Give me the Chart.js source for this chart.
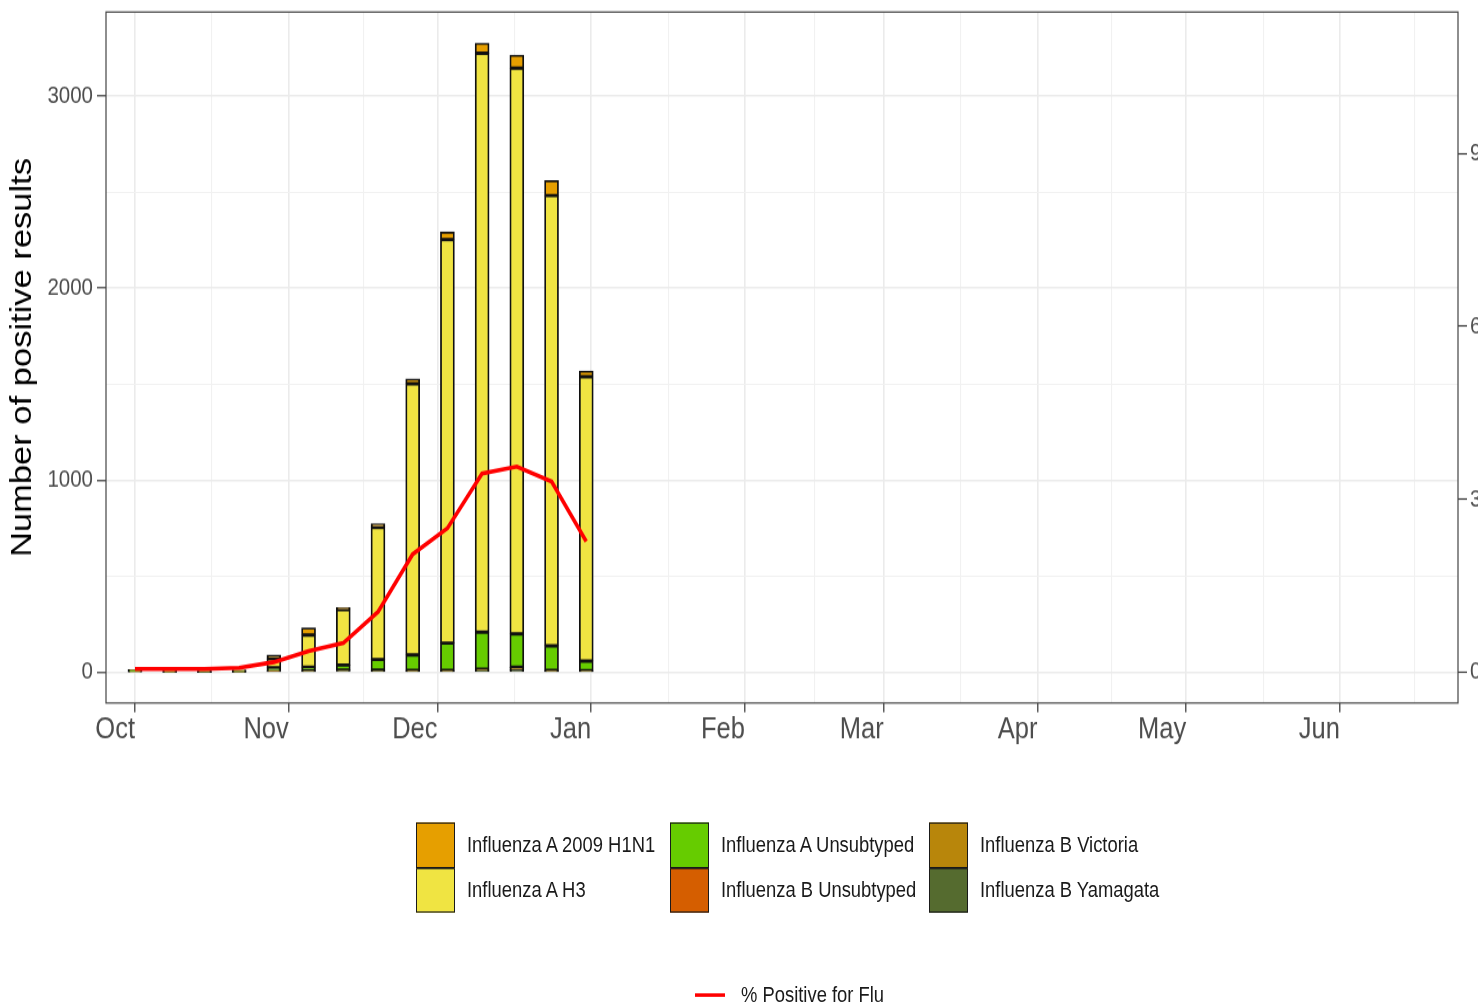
<!DOCTYPE html>
<html>
<head>
<meta charset="utf-8">
<script src="https://cdn.jsdelivr.net/npm/chart.js@4.4.0/dist/chart.umd.min.js"></script>
<style>
  html, body { margin: 0; padding: 0; background: #fff; }
  body { width: 1478px; min-height: 1005px; }
  /* the reference is stretched vertically, so the whole figure is drawn then scaled in y */
  #wrap { position: relative; width: 1478px; height: 859px; transform: scaleY(1.17); transform-origin: 0 0;
          font-family: "Liberation Sans", Arial, sans-serif; }
  #chart { position: absolute; left: 0; top: 0; }
  .key { position: absolute; width: 39px; height: 38.5px; box-sizing: border-box; border: 1.8px solid #1a1a1a; }
  .lab { position: absolute; font-size: 18.4px; line-height: 38.5px; color: #1a1a1a; white-space: nowrap; }
  .lineKey { position: absolute; width: 30px; height: 3.4px; background: #ff0000; }
</style>
</head>
<body>
<div id="wrap">
  <canvas id="chart" width="1478" height="650" style="width:1478px;height:650px"></canvas>
  <div id="legend"></div>
</div>
<script>
// ---- données ----
// weeks, as days since 1 October
const weekDays = [0, 7, 14, 21, 28, 35, 42, 49, 56, 63, 70, 77, 84, 91];

// month ticks (days since 1 October) and the minor grid between them
const monthDays = [0, 31, 61, 92, 123, 151, 182, 212, 243];
const monthLabels = ['Oct', 'Nov', 'Dec', 'Jan', 'Feb', 'Mar', 'Apr', 'May', 'Jun'];
const midMonthDays = [15.5, 46, 76.5, 107.5, 137, 166.5, 197, 227.5, 258];

const countTicks = [0, 1000, 2000, 3000];
const countMinorTicks = [500, 1500, 2500];
const pctTicks = [0, 30, 60, 90];

const seriesNames = ['Influenza A 2009 H1N1', 'Influenza A H3', 'Influenza A Unsubtyped',
                     'Influenza B Unsubtyped', 'Influenza B Victoria', 'Influenza B Yamagata'];
const seriesColors = ['#E69F00', '#F0E442', '#66CC00', '#D55E00', '#B8860B', '#556B2F'];

const h1n1      = [2, 1, 1, 2, 20, 38, 9, 20, 25, 40, 52, 68, 78, 30];
const h3        = [4, 2, 2, 4, 47, 167, 289, 687, 1412, 2100, 3013, 2944, 2343, 1479];
const aUnsub    = [4, 2, 3, 4, 15, 18, 26, 56, 80, 142, 193, 173, 128, 50];
const bUnsub    = [0, 0, 0, 0, 1, 0, 0, 0, 1, 1, 1, 1, 1, 0];
const bVictoria = [2, 1, 1, 1, 3, 4, 5, 5, 4, 4, 7, 12, 4, 4];
const bYamagata = [3, 2, 1, 2, 5, 6, 8, 7, 6, 6, 9, 15, 6, 6];

const pctPositive = [0.6, 0.6, 0.6, 0.8, 1.8, 3.7, 5.1, 10.5, 20.5, 25.0, 34.5, 35.7, 33.1, 22.7];
const lineLabel = '% Positive for Flu';

const seriesValues = [h1n1, h3, aUnsub, bUnsub, bVictoria, bYamagata];

// ---- graphique ----
// bars stacked bottom to top: B Yamagata ... H1N1 (legend order reversed)
const barSets = seriesValues.map((vals, i) => ({
    type: 'bar',
    label: seriesNames[i],
    data: vals.map((v, k) => ({ x: weekDays[k], y: v })),
    backgroundColor: seriesColors[i],
    borderColor: '#111',
    borderWidth: 1.8,
    borderSkipped: false,
    barThickness: 14,
    yAxisID: 'y',
    order: 1
})).reverse();

const lineSet = {
    type: 'line',
    label: lineLabel,
    data: pctPositive.map((v, k) => ({ x: weekDays[k], y: v })),
    borderColor: '#ff0000',
    borderWidth: 3.6,
    pointRadius: 0,
    tension: 0,
    yAxisID: 'y2',
    order: 0
};

const isMajorX = c => !!c.tick && monthDays.includes(c.tick.value);
const isMajorY = c => !!c.tick && countTicks.includes(c.tick.value);

// vertical axes: fixed width, no extra label padding above/below the panel
const fixWidth = w => s => { s.width = w; s.paddingTop = 0; s.paddingBottom = 0; };

// cadre du panneau
const panelBorder = {
    id: 'panelBorder',
    afterDraw(chart) {
        const { ctx, chartArea: a } = chart;
        ctx.save();
        ctx.strokeStyle = '#444';
        ctx.lineWidth = 1.2;
        ctx.strokeRect(a.left, a.top, a.right - a.left, a.bottom - a.top);
        ctx.restore();
    }
};

Chart.defaults.font.family = '"Liberation Sans", Arial, sans-serif';

new Chart(document.getElementById('chart').getContext('2d'), {
    type: 'bar',
    data: { datasets: [...barSets, lineSet] },
    options: {
        responsive: false,
        animation: false,
        layout: { padding: { top: 10.26, left: 0, right: 0, bottom: 0 } },
        plugins: { legend: { display: false }, tooltip: { enabled: false } },
        scales: {
            x: {
                type: 'linear',
                min: -5.85,
                max: 266.8,
                offset: false,
                stacked: true,
                afterBuildTicks: s => { s.ticks = monthDays.concat(midMonthDays).map(v => ({ value: v })); },
                afterFit: s => { s.height = 650 - 600.85; s.paddingLeft = 0; s.paddingRight = 0; },
                ticks: {
                    autoSkip: false,
                    maxRotation: 0,
                    align: 'end',
                    padding: 0,
                    color: '#4d4d4d',
                    font: { size: 25.5 },
                    callback: v => { const i = monthDays.indexOf(v); return i >= 0 ? monthLabels[i] : ''; }
                },
                grid: {
                    offset: false,
                    color: c => isMajorX(c) ? '#ebebeb' : '#f1f1f1',
                    lineWidth: c => isMajorX(c) ? 1.6 : 1.1,
                    tickLength: 8,
                    tickColor: c => isMajorX(c) ? '#333' : 'rgba(0,0,0,0)',
                    tickWidth: 1.2
                },
                border: { display: false }
            },
            y: {
                type: 'linear',
                position: 'left',
                min: -158.7,
                max: 3437,
                stacked: true,
                afterBuildTicks: s => { s.ticks = countTicks.concat(countMinorTicks).map(v => ({ value: v })); },
                afterFit: fixWidth(106),
                ticks: {
                    padding: 4,
                    color: '#4d4d4d',
                    font: { size: 20.5 },
                    callback: v => countTicks.includes(v) ? String(v) : ''
                },
                grid: {
                    color: c => isMajorY(c) ? '#ebebeb' : '#f1f1f1',
                    lineWidth: c => isMajorY(c) ? 1.6 : 1.1,
                    tickLength: 9,
                    tickColor: c => isMajorY(c) ? '#333' : 'rgba(0,0,0,0)',
                    tickWidth: 1.2
                },
                border: { display: false },
                title: {
                    display: true,
                    text: 'Number of positive results',
                    color: '#000',
                    font: { size: 29.5 },
                    padding: { top: 5, bottom: 0 }
                }
            },
            y2: {
                type: 'linear',
                position: 'right',
                min: -5.29,
                max: 114.5,
                afterBuildTicks: s => { s.ticks = pctTicks.map(v => ({ value: v })); },
                afterFit: fixWidth(20),
                ticks: { padding: 3, color: '#4d4d4d', font: { size: 20.5 } },
                grid: { drawOnChartArea: false, tickLength: 9, tickColor: '#333', tickWidth: 1.2 },
                border: { display: false }
            }
        }
    },
    plugins: [panelBorder]
});

// ---- légende ----
const legend = document.getElementById('legend');
const keyLeft = [416, 670, 929];
const labLeft = [467, 721, 980];
const rowTop = [703.4, 741.9];
seriesNames.forEach((name, i) => {
    const col = Math.floor(i / 2), row = i % 2;
    const key = document.createElement('div');
    key.className = 'key';
    key.style.left = keyLeft[col] + 'px';
    key.style.top = rowTop[row] + 'px';
    key.style.background = seriesColors[i];
    legend.appendChild(key);
    const lab = document.createElement('div');
    lab.className = 'lab';
    lab.style.left = labLeft[col] + 'px';
    lab.style.top = rowTop[row] + 'px';
    lab.textContent = name;
    legend.appendChild(lab);
});
const lk = document.createElement('div');
lk.className = 'lineKey';
lk.style.left = '695px';
lk.style.top = '848.7px';
legend.appendChild(lk);
const ll = document.createElement('div');
ll.className = 'lab';
ll.style.left = '741px';
ll.style.top = '831.4px';
ll.textContent = lineLabel;
legend.appendChild(ll);
</script>
</body>
</html>
